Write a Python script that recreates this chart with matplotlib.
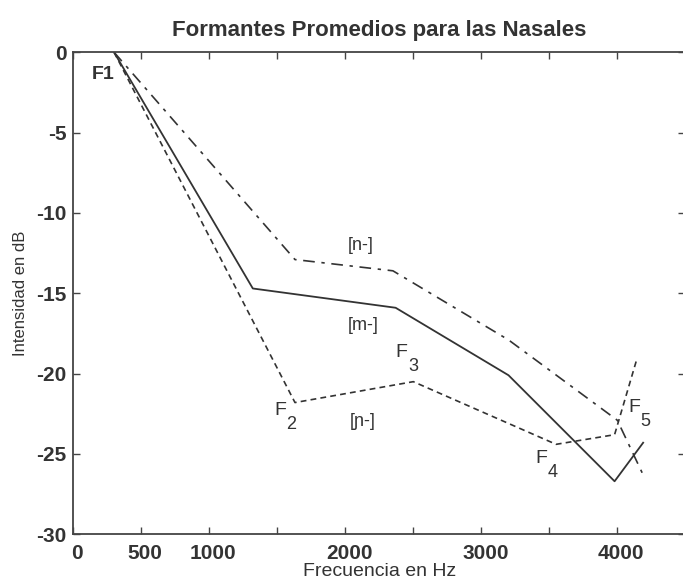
import matplotlib
matplotlib.use("Agg")
import matplotlib.pyplot as plt
import matplotlib.transforms as mtransforms
from matplotlib import font_manager

# datos (Hz, dB)
m_freq = [300, 1320, 2370, 3200, 3980, 4190]
m_db = [0, -14.7, -15.9, -20.1, -26.7, -24.3]

n_freq = [300, 1630, 2350, 3200, 4000, 4190]
n_db = [0, -12.9, -13.6, -17.9, -22.9, -26.3]

nj_freq = [300, 1630, 2500, 3550, 3980, 4140]
nj_db = [0, -21.8, -20.5, -24.4, -23.8, -19.2]

xticks = [0, 500, 1000, 1500, 2000, 2500, 3000, 3500, 4000, 4500]
xticklabels = ['0', '500', '1000', '', '2000', '', '3000', '', '4000', '']
yticks = [0, -5, -10, -15, -20, -25, -30]

# etiquetas de las curvas: (texto, x, y)
labels = [
    ('[n-]', 2110, -12.0),
    ('[m-]', 2130, -17.0),
    ('[\u0272-]', 2130, -23.0),
]
# formantes: (letra, subindice, x, y)
formants = [
    ('F', '2', 1520, -22.3),
    ('F', '3', 2415, -18.7),
    ('F', '4', 3440, -25.3),
    ('F', '5', 4125, -22.1),
]

names = {f.name for f in font_manager.fontManager.ttflist}
main_font = 'Liberation Sans' if 'Liberation Sans' in names else 'DejaVu Sans'
plt.rcParams['font.family'] = [main_font, 'DejaVu Sans']
plt.rcParams['axes.unicode_minus'] = False

ink = '#333333'

fig = plt.figure(figsize=(6.83, 5.84), dpi=100)
ax = fig.add_axes([73.3 / 683, 49.7 / 584, 612 / 683, 482 / 584])

ax.plot(m_freq, m_db, color=ink, lw=1.3, linestyle='-')
ax.plot(n_freq, n_db, color=ink, lw=1.2, linestyle=(0, (7, 4, 2, 4)))
ax.plot(nj_freq, nj_db, color=ink, lw=1.2, linestyle=(0, (3.5, 2.5)))

for txt, x, y in labels:
    ax.text(x, y, txt, ha='center', va='center', fontsize=13, color=ink)

ax.text(221, -1.4, 'F1', ha='center', va='center', fontsize=14,
        fontweight='bold', color=ink)
for letra, sub, x, y in formants:
    ax.text(x, y, letra, ha='center', va='center', fontsize=14, color=ink)
    ax.annotate(sub, (x, y), xytext=(8, -10), textcoords='offset points',
                ha='center', va='center', fontsize=13, color=ink)

ax.set_xlim(0, 4500)
ax.set_ylim(-30, 0)
ax.set_xticks(xticks)
ax.set_xticklabels(xticklabels)
ax.set_yticks(yticks)
ax.tick_params(direction='in', length=5, width=1, colors='#444444',
               labelcolor=ink, labelsize=15, top=True, right=True)
ax.tick_params(axis='x', pad=7)
ax.tick_params(axis='y', pad=5)
for lab in ax.get_xticklabels() + ax.get_yticklabels():
    lab.set_fontweight('bold')
# etiquetas x algo corridas a la derecha como en el original
shift = mtransforms.ScaledTranslation(4 / 100, 0, fig.dpi_scale_trans)
for lab in ax.get_xticklabels():
    lab.set_transform(lab.get_transform() + shift)

for sp in ax.spines.values():
    sp.set_color('#444444')
    sp.set_linewidth(1.3)

ax.set_xlabel('Frecuencia en Hz', fontsize=14, color=ink, labelpad=0)
ax.set_ylabel('Intensidad en dB', fontsize=12, color=ink, labelpad=6)
ax.set_title('Formantes Promedios para las Nasales', fontsize=16,
             fontweight='bold', color=ink, pad=12)

fig.savefig('out.png', dpi=100)
